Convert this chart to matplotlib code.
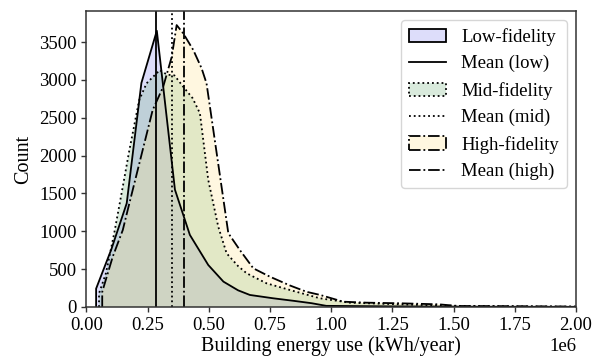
import matplotlib
matplotlib.use("Agg")
import matplotlib.pyplot as plt
from matplotlib.patches import Patch
from matplotlib.lines import Line2D
import numpy as np

plt.rcParams['font.family'] = ['Liberation Serif', 'DejaVu Serif']

# Building energy use in units of 1e6 kWh/year (polygon histogram points)
low_x = [0.040, 0.102, 0.165, 0.225, 0.288, 0.362, 0.423, 0.498, 0.560, 0.620, 0.668, 0.763, 0.850, 0.920, 0.980, 1.25, 1.50, 1.75, 2.00]
low_y = [242, 760, 1370, 2960, 3650, 1550, 952, 555, 335, 220, 159, 115, 80, 50, 15, 8, 5, 3, 2]

mid_x = [0.052, 0.080, 0.114, 0.149, 0.176, 0.216, 0.246, 0.300, 0.330, 0.360, 0.396, 0.434, 0.464, 0.498, 0.539, 0.573, 0.620, 0.655, 0.736, 0.831, 0.954, 1.076, 1.28, 1.50, 1.75, 2.00]
mid_y = [180, 445, 975, 1590, 2075, 2734, 2955, 3130, 3070, 3060, 2910, 2760, 2560, 1680, 1060, 709, 540, 445, 313, 225, 115, 57, 35, 15, 8, 4]

high_x = [0.065, 0.108, 0.149, 0.169, 0.203, 0.237, 0.271, 0.314, 0.349, 0.369, 0.396, 0.437, 0.471, 0.491, 0.580, 0.627, 0.682, 0.750, 0.831, 0.900, 0.954, 1.049, 1.144, 1.28, 1.44, 1.52, 1.75, 2.00]
high_y = [200, 665, 1017, 1281, 1721, 2162, 2602, 2910, 3307, 3725, 3615, 3395, 3153, 2955, 975, 753, 511, 400, 285, 200, 160, 70, 57, 49, 35, 13, 10, 5]

mean_low = 0.2845
mean_mid = 0.3485
mean_high = 0.400

labels = ['Low-fidelity', 'Mean (low)', 'Mid-fidelity', 'Mean (mid)', 'High-fidelity', 'Mean (high)']

scale = 1e6
c_low = (0.47, 0.47, 0.93, 0.25)
c_mid = (0.41, 0.68, 0.46, 0.25)
c_high = (1.0, 0.89, 0.53, 0.25)

fig = plt.figure(figsize=(5.94, 3.58), dpi=100)
ax = fig.add_axes([0.1453, 0.1425, 0.9697 - 0.1453, 0.9693 - 0.1425])

lw = 1.3
series = [(low_x, low_y, c_low, '-'), (mid_x, mid_y, c_mid, ':'), (high_x, high_y, c_high, '-.')]
for xs, ys, c, ls in series:
    xs = np.array(xs) * scale
    ax.fill_between(xs, 0, ys, facecolor=c, edgecolor='none')
    ax.plot(np.r_[xs[0], xs], np.r_[0, ys], color='black', ls=ls, lw=lw)

ax.axvline(mean_low * scale, color='black', ls='-', lw=lw)
ax.axvline(mean_mid * scale, color='black', ls=':', lw=lw)
ax.axvline(mean_high * scale, color='black', ls='-.', lw=lw)

ax.set_xlim(0, 2.0 * scale)
ax.set_ylim(0, max(max(low_y), max(mid_y), max(high_y)) * 1.05)
ax.set_xticks(np.arange(0, 2.01, 0.25) * scale)
ax.set_yticks(np.arange(0, 3501, 500))
for s in ax.spines.values():
    s.set_color('#333333')
    s.set_linewidth(1.1)
ax.tick_params(labelsize=13.5, color='#333333', width=1.0)
ax.xaxis.get_offset_text().set_fontsize(13.5)
ax.set_xlabel('Building energy use (kWh/year)', fontsize=14.5, labelpad=2)
ax.set_ylabel('Count', fontsize=14.5)

handles = [
    Patch(facecolor=c_low, edgecolor='black', linestyle='-', linewidth=lw),
    Line2D([], [], color='black', ls='-', lw=lw),
    Patch(facecolor=c_mid, edgecolor='black', linestyle=':', linewidth=lw),
    Line2D([], [], color='black', ls=':', lw=lw),
    Patch(facecolor=c_high, edgecolor='black', linestyle='-.', linewidth=lw),
    Line2D([], [], color='black', ls='-.', lw=lw),
]
ax.legend(handles, labels, loc='upper right', fontsize=13.5)

fig.savefig('out.png', dpi=100)
